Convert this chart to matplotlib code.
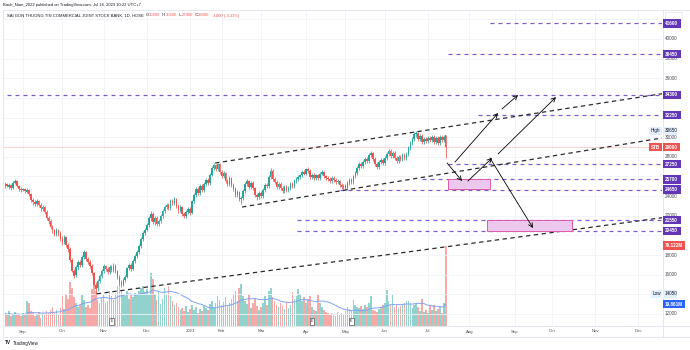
import numpy as np
import pandas as pd
import matplotlib
matplotlib.use('Agg')
import matplotlib.pyplot as plt
from matplotlib.patches import Rectangle
from matplotlib.offsetbox import TextArea, HPacker, AnnotationBbox

plt.rcParams['font.family'] = ['Liberation Sans', 'DejaVu Sans']

# ---------------- data ----------------
HOLIDAYS = ['2022-09-01', '2022-09-02', '2023-01-02', '2023-01-20', '2023-01-23',
            '2023-01-24', '2023-01-25', '2023-01-26', '2023-05-01', '2023-05-02',
            '2023-05-03', '2023-09-01', '2023-09-04']
dates = pd.bdate_range('2022-08-19', '2023-12-29', freq='C', holidays=HOLIDAYS)

opens = [25000, 25200, 24900, 25100, 24800, 25300, 25500, 25000, 24700, 24600,
         24700, 24400, 24600, 24200, 23600, 23400, 23200, 23500, 23100, 22700,
         22900, 22400, 21800, 21500, 20900, 20500, 20100, 20600, 20200, 19600,
         19300, 19800, 19000, 18600, 17500, 16400, 16000, 16800, 17300, 17000,
         17800, 18300, 17600, 17300, 16900, 16200, 15000, 14600, 15400, 15900,
         16400, 16900, 16600, 16300, 16800, 16500, 16900, 16400, 15800, 15300,
         15000, 15500, 15800, 16700, 17000, 16600, 17400, 17900, 18300, 18900,
         19600, 20200, 20600, 21100, 21800, 22200, 21400, 21800, 21200, 21500,
         22000, 22500, 22900, 23100, 22800, 23500, 23300, 23700, 23000, 22600,
         22900, 22200, 22000, 22400, 22700, 22300, 23500, 24100, 24700, 24300,
         25000, 24600, 25200, 25600, 25300, 26200, 26900, 27200, 26800, 27300,
         26500, 26000, 26400, 25500, 25200, 25800, 25100, 24700, 24100, 24400,
         23700, 23800, 24500, 25200, 25500, 24900, 25300, 24800, 24100, 23900,
         24300, 24000, 24600, 25100, 25000, 25900, 26600, 25700, 25400, 24900,
         25200, 24800, 24500, 24900, 24600, 24800, 25200, 25000, 25500, 25700,
         25900, 26100, 26500, 26300, 26800, 26600, 25900, 26200, 25800, 26100,
         25800, 26300, 26500, 26000, 25800, 25700, 25500, 25800, 25600, 25400,
         25500, 25100, 24900, 25000, 24800, 25300, 25600, 25400, 26000, 26400,
         26900, 27300, 27100, 27500, 27800, 27600, 28200, 28400, 27800, 27300,
         27000, 27500, 27700, 27400, 27900, 28300, 28600, 28100, 28400, 27900,
         27600, 28000, 27800, 28200, 27900, 28300, 28900, 29400, 29800, 30300,
         30400, 29800, 30100, 29500, 29800, 29600, 29900, 29700, 30000, 29500,
         29900, 29400, 30000, 29700, 30200]
highs = [25400, 25300, 25300, 25200, 25500, 25700, 25600, 25100, 24900, 24800,
         24800, 24800, 24700, 24300, 23800, 23600, 23700, 23600, 23300, 23100,
         23000, 22600, 22000, 21700, 21100, 20700, 20800, 20700, 20400, 19900,
         20000, 19900, 19200, 18800, 17700, 16600, 17000, 17500, 17500, 18000,
         18500, 18400, 17800, 17500, 17100, 16300, 15300, 15600, 16100, 16600,
         17100, 17000, 16800, 17000, 17000, 17200, 17100, 16500, 16000, 15500,
         15700, 16000, 16800, 17200, 17200, 17600, 18100, 18500, 19100, 19800,
         20400, 20800, 21300, 22000, 22500, 22400, 22000, 22000, 21700, 22200,
         22700, 23100, 23300, 23300, 23700, 23700, 23900, 23800, 23200, 23100,
         23000, 22400, 22600, 22900, 22900, 23600, 24300, 24900, 24900, 25200,
         25200, 25400, 25800, 25800, 26400, 27100, 27400, 27300, 27400, 27400,
         26700, 26600, 26500, 25700, 26000, 25900, 25300, 24900, 24600, 24500,
         24000, 24700, 25400, 25700, 25600, 25500, 25500, 24900, 24300, 24500,
         24500, 24800, 25300, 25300, 26100, 26900, 26800, 25900, 25600, 25400,
         25400, 25000, 25100, 25100, 25000, 25400, 25400, 25700, 25900, 26100,
         26300, 26700, 26700, 26900, 27000, 26800, 26400, 26400, 26300, 26300,
         26500, 26700, 26600, 26200, 26000, 25900, 26000, 26000, 25800, 25700,
         25600, 25300, 25200, 25200, 25500, 25800, 25800, 26200, 26600, 27100,
         27500, 27500, 27700, 28000, 28000, 28400, 28600, 28500, 28000, 27500,
         27700, 27900, 27900, 28100, 28500, 28800, 28800, 28600, 28600, 28100,
         28200, 28200, 28400, 28400, 28500, 29100, 29600, 30000, 30500, 30650,
         30500, 30300, 30300, 30000, 30000, 30100, 30100, 30200, 30200, 30100,
         30100, 30200, 30200, 30200, 30200]
lows = [24800, 24900, 24700, 24600, 24700, 25200, 24900, 24500, 24400, 24500,
        24300, 24300, 24000, 23400, 23100, 23000, 23000, 22900, 22500, 22500,
        22200, 21600, 21200, 20700, 20200, 19900, 19900, 19900, 19400, 19000,
        19100, 18800, 18300, 17300, 16300, 15700, 15800, 16500, 16800, 16800,
        17600, 17400, 17100, 16700, 16000, 14800, 14050, 14300, 15200, 15700,
        16200, 16400, 16100, 16100, 16300, 16300, 16200, 15600, 15000, 14700,
        14800, 15300, 15700, 16500, 16400, 16500, 17200, 17700, 18100, 18700,
        19400, 20000, 20400, 20900, 21500, 21200, 21100, 21000, 21000, 21300,
        21800, 22300, 22700, 22600, 22600, 23100, 23100, 22800, 22300, 22400,
        22000, 21800, 21800, 22200, 22100, 22200, 23300, 23900, 24100, 24100,
        24400, 24400, 25000, 25100, 25100, 26000, 26700, 26600, 26600, 26300,
        25800, 25800, 25300, 25000, 25000, 24900, 24500, 23900, 23900, 23500,
        23200, 23600, 24300, 25000, 24700, 24700, 24600, 23900, 23600, 23700,
        23800, 23800, 24400, 24800, 24800, 25700, 25500, 25200, 24700, 24700,
        24600, 24300, 24300, 24400, 24400, 24600, 24800, 24800, 25300, 25500,
        25700, 25900, 26100, 26100, 26400, 25700, 25700, 25600, 25600, 25600,
        25600, 26100, 25800, 25600, 25500, 25300, 25300, 25400, 25200, 25200,
        24900, 24700, 24700, 24600, 24600, 25100, 25200, 25200, 25800, 26200,
        26700, 26900, 26900, 27300, 27400, 27400, 28000, 27600, 27100, 26800,
        26800, 27300, 27200, 27200, 27700, 28100, 27900, 27900, 27700, 27400,
        27400, 27600, 27600, 27700, 27700, 28100, 28700, 29200, 29600, 30000,
        29600, 29600, 29300, 29300, 29400, 29400, 29500, 29500, 29300, 29300,
        29200, 29200, 29500, 29500, 27900]
closes = [25200, 25000, 25100, 24800, 25300, 25500, 25000, 24700, 24600, 24700,
          24500, 24600, 24200, 23600, 23400, 23200, 23500, 23100, 22800, 22900,
          22400, 21800, 21500, 20900, 20500, 20100, 20600, 20200, 19600, 19300,
          19800, 19000, 18600, 17500, 16400, 15900, 16800, 17300, 17000, 17800,
          18300, 17600, 17300, 16900, 16200, 15000, 14500, 15400, 15900, 16400,
          16900, 16600, 16300, 16800, 16500, 16900, 16400, 15800, 15300, 15000,
          15500, 15800, 16700, 17000, 16600, 17400, 17900, 18300, 18900, 19600,
          20200, 20600, 21100, 21800, 22200, 21400, 21800, 21200, 21500, 22000,
          22500, 22900, 23100, 22800, 23500, 23300, 23700, 23000, 22600, 22900,
          22200, 22000, 22400, 22700, 22300, 23500, 24100, 24700, 24300, 25000,
          24600, 25200, 25600, 25300, 26200, 26900, 27200, 26800, 27300, 26500,
          26000, 26400, 25500, 25200, 25800, 25100, 24700, 24100, 24400, 23700,
          23800, 24500, 25200, 25500, 24900, 25300, 24800, 24100, 23900, 24300,
          24000, 24600, 25100, 25000, 25900, 26600, 25700, 25400, 24900, 25200,
          24800, 24500, 24900, 24600, 24800, 25200, 25000, 25500, 25700, 25900,
          26100, 26500, 26300, 26800, 26600, 25900, 26200, 25800, 26100, 25800,
          26300, 26500, 26000, 25800, 25700, 25500, 25800, 25600, 25400, 25500,
          25100, 24900, 25000, 24800, 25300, 25600, 25400, 26000, 26400, 26900,
          27300, 27100, 27500, 27800, 27600, 28200, 28400, 27800, 27300, 27000,
          27500, 27700, 27400, 27900, 28300, 28600, 28100, 28400, 27900, 27600,
          28000, 27800, 28200, 27900, 28300, 28900, 29400, 29800, 30300, 30400,
          29800, 30100, 29500, 29800, 29600, 29900, 29700, 30000, 29500, 29900,
          29400, 30000, 29700, 30000, 29000]
volumes_m = [12, 10, 14, 9, 11, 13, 10, 11, 9, 12,
             10, 24, 22, 14, 12, 9, 11, 13, 8, 12,
             10, 14, 12, 15, 18, 13, 15, 11, 17, 28,
             16, 30, 26, 42, 36, 27, 22, 18, 20, 29,
             25, 18, 20, 17, 35, 42, 33, 25, 22, 27,
             30, 22, 24, 33, 28, 25, 31, 38, 42, 34,
             30, 28, 33, 26, 30, 27, 31, 29, 33, 36,
             38, 32, 35, 30, 50, 44, 30, 25, 33, 21,
             26, 36, 30, 38, 28, 24, 20, 22, 18, 15,
             17, 14, 19, 13, 16, 20, 15, 18, 12, 16,
             14, 19, 17, 15, 21, 24, 18, 22, 28, 25,
             20, 23, 27, 19, 22, 26, 30, 33, 24, 36,
             40, 28, 24, 21, 30, 17, 22, 26, 19, 15,
             18, 22, 28, 20, 33, 36, 27, 24, 20, 18,
             22, 19, 16, 23, 17, 20, 32, 26, 28, 35,
             30, 24, 27, 22, 26, 28, 18, 15, 14, 30,
             22, 18, 15, 13, 12, 10, 12, 11, 9, 13,
             10, 12, 11, 14, 18, 16, 15, 25, 20, 18,
             17, 19, 16, 20, 18, 22, 28, 15, 14, 13,
             16, 18, 20, 22, 34, 24, 21, 30, 18, 20,
             17, 19, 20, 22, 24, 24, 22, 17, 20, 21,
             18, 14, 26, 13, 15, 12, 19, 15, 20, 14,
             16, 18, 12, 22, 76.122]

month_labels = ['Sep', 'Oct', 'Nov', 'Dec', '2023', 'Feb', 'Mar', 'Apr', 'May',
                'Jun', 'Jul', 'Aug', 'Sep', 'Oct', 'Nov', 'Dec']
price_ticks = [12000, 16000, 18000, 22000, 24000, 28000, 30000, 36000, 38000,
               40000]
grid_prices = list(range(12000, 44000, 2000))

level_prices = [41600, 38450, 34300, 32250, 27250, 25700, 24650, 21550, 20450]
level_starts = [246.5, 225.2, -5.0, 240.4, 225.2, 212.0, 170.2, 148.4, 148.4]

trend_lines = {
    'upper': [(106.7, 27370), (334.0, 34430)],
    'lower': [(120.4, 22890), (334.0, 29920)],
    'support': [(46.5, 14050), (334.0, 21800)],
}
arrows = [((224.7, 27370), (232.3, 25540)),
          ((228.7, 27470), (250.6, 32460)),
          ((252.6, 32870), (260.8, 34300)),
          ((235.3, 25540), (247.6, 27880)),
          ((250.6, 28290), (280.1, 34090)),
          ((246.5, 27880), (268.4, 20750))]
zones = [((225.3, 246.5), (24700, 25700)),
         ((245.2, 288.1), (20450, 21550))]
earnings_pos = [54, 156, 176]

last_price = 29000
high_price = 30650
low_price = 14050
vol_ma_label = '19.861M'
vol_last_label = '76.122M'

# ---------------- styling ----------------
W, H = 690, 350
UP, DOWN = '#26a69a', '#ef5350'
VUP, VDOWN = '#92d2cc', '#f7a9a7'
PURPLE_LINE = '#7e5bd0'
PURPLE_BOX = '#6236b7'
GRID = '#f1f3f7'
TXT = '#4a4e59'

fig = plt.figure(figsize=(W / 100, H / 100), dpi=100)
fig.patch.set_facecolor('white')
ax = fig.add_axes([3 / W, 24 / H, 659 / W, 316 / H])
axv = ax.twinx()
ax.set_zorder(axv.get_zorder() + 1)
ax.patch.set_visible(False)

XMIN, XMAX = -1.17, 334.0
ax.set_xlim(XMIN, XMAX)
ax.set_ylim(10774, 42953)
axv.set_ylim(0, 299)

for a in (ax, axv):
    for s in a.spines.values():
        s.set_visible(False)
    a.set_xticks([])
    a.set_yticks([])

o = np.array(opens, float)
h = np.array(highs, float)
l = np.array(lows, float)
c = np.array(closes, float)
v = np.array(volumes_m, float)
x = np.arange(len(c))
up = c >= o

# grid
first_pos = [k for k in range(1, len(dates)) if dates[k].month != dates[k - 1].month]
for p in first_pos:
    axv.axvline(p, color=GRID, lw=0.6, zorder=0)
for gp in grid_prices:
    ax.axhline(gp, color=GRID, lw=0.6, zorder=0)

# volume
axv.bar(x, v, width=0.8, color=np.where(up, VUP, VDOWN), lw=0, zorder=2)
ma = pd.Series(v).rolling(20, min_periods=1).mean().values
axv.plot(x, ma, color='#7ea3f5', lw=0.7, zorder=3)

# price line
ax.axhline(last_price, color='#fbd5d4', lw=0.8, zorder=1)

# candles
col = np.where(up, UP, DOWN)
ax.vlines(x, l, h, colors=col, lw=0.55, zorder=4)
ax.bar(x, np.maximum(np.abs(c - o), 60), bottom=np.minimum(o, c), width=0.78,
       color=col, lw=0, zorder=5)

# horizontal levels
for lp, ls in zip(level_prices, level_starts):
    ax.plot([ls, XMAX + 5], [lp, lp], color=PURPLE_LINE, lw=0.9,
            dashes=(3.2, 3.2), zorder=6, solid_capstyle='butt')

# trend lines
for (x0, y0), (x1, y1) in trend_lines.values():
    ax.plot([x0, x1], [y0, y1], color='#2b2b2b', lw=0.9, dashes=(3.5, 2.8),
            zorder=6)

# zones
for (xa, xb), (ya, yb) in zones:
    ax.add_patch(Rectangle((xa, ya), xb - xa, yb - ya, facecolor='#ecc8ee',
                           edgecolor='#e05aa8', lw=0.7, zorder=6.5))

# arrows
for (sx, sy), (ex, ey) in arrows:
    ax.annotate('', xy=(ex, ey), xytext=(sx, sy),
                arrowprops=dict(arrowstyle='->,head_length=0.5,head_width=0.25',
                                color='black', lw=0.6, shrinkA=0, shrinkB=0,
                                mutation_scale=6), zorder=7)

# earnings markers
for ep in earnings_pos:
    ax.text(ep, 0.0145, 'E', transform=ax.get_xaxis_transform(), fontsize=2.6,
            ha='center', va='center', color='#333', zorder=8,
            bbox=dict(boxstyle='square,pad=0.35', fc='white', ec='#555', lw=0.5))

fig.canvas.draw()


def fy(p):
    return ax.transData.transform((0, p))[1] / H


def fyv(val):
    return axv.transData.transform((0, val))[1] / H


def fxp(pos):
    return ax.transData.transform((pos, 0))[0] / W


def hline(ypix, x0, x1, color='#e0e3eb', lw=0.6):
    fig.add_artist(plt.Line2D([x0 / W, x1 / W], [1 - ypix / H, 1 - ypix / H],
                              color=color, lw=lw, transform=fig.transFigure))


def vline(xpix, y0, y1, color='#e0e3eb', lw=0.6):
    fig.add_artist(plt.Line2D([xpix / W, xpix / W], [1 - y0 / H, 1 - y1 / H],
                              color=color, lw=lw, transform=fig.transFigure))


hline(10, 3, 690)
hline(326, 3, 690)
hline(336.5, 3, 690)
vline(662.5, 10, 336.5)
vline(3, 10, 336.5)

# price tick labels
for pt in price_ticks:
    fig.text(665 / W, fy(pt), f'{pt}', fontsize=3.3, color=TXT, va='center',
             ha='left', zorder=3)

# month labels
for p, lab in zip(first_pos, month_labels):
    fig.text(fxp(p), 1 - 331.5 / H, lab, fontsize=3.1, color=TXT,
             ha='center', va='center')


def axis_box(yf, text, fc, tc='white', x0=663, w=18, hgt=8.5, zo=5):
    fig.add_artist(Rectangle((x0 / W, yf - hgt / 2 / H), w / W, hgt / H,
                             transform=fig.transFigure, fc=fc, ec='none',
                             zorder=zo))
    fig.text((x0 + 1.6) / W, yf, text, fontsize=3.3, color=tc, va='center',
             ha='left', zorder=zo + 1,
             fontweight='bold' if tc == 'white' else 'normal')


for lp in level_prices:
    axis_box(fy(lp), f'{lp}', PURPLE_BOX)

axis_box(fy(high_price), f'{high_price}', '#e3effd', tc='#131722', w=14)
axis_box(fy(high_price), 'High', '#e3effd', tc='#131722', x0=649, w=13)
axis_box(fy(last_price), f'{last_price}', DOWN, w=17)
axis_box(fy(last_price), 'STB', DOWN, x0=649, w=13)
axis_box(fy(low_price), f'{low_price}', '#e3effd', tc='#131722', w=14)
axis_box(fy(low_price), 'Low', '#e3effd', tc='#131722', x0=651, w=11)
axis_box(fyv(v[-1]), vol_last_label, DOWN, w=22)
axis_box(fyv(ma[-1]), vol_ma_label, '#2962ff', w=22)

# small button at the top of the price scale
fig.add_artist(Rectangle((665 / W, 1 - 20 / H), 17 / W, 8 / H,
                         transform=fig.transFigure, fc='white', ec='#e0e3eb',
                         lw=0.5))

# header texts
fig.text(3 / W, 1 - 5 / H,
         'Bach_Nam_2022 published on TradingView.com, Jul 16, 2023 10:22 UTC+7',
         fontsize=3.0, color='#131722', va='center', ha='left')

RED = '#ef5350'
DARK = '#131722'
parts = [('SAI GON THUONG TIN COMMERCIAL JOINT STOCK BANK, 1D, HOSE  ', DARK),
         ('O', DARK), ('30200', RED), ('  H', DARK), ('30200', RED),
         ('  L', DARK), ('27900', RED), ('  C', DARK), ('29000', RED),
         ('  -1000 (-3.33%)', RED)]
areas = [TextArea(t, textprops=dict(color=cc, fontsize=3.0)) for t, cc in parts]
pack = HPacker(children=areas, pad=0, sep=0, align='center')
ab = AnnotationBbox(pack, (7 / W, 1 - 15.5 / H), xycoords='figure fraction',
                    box_alignment=(0, 0.5), frameon=False, pad=0)
fig.add_artist(ab)

# TradingView logo
fig.text(5 / W, 1 - 343 / H, 'TV', fontsize=3.4, fontweight='bold',
         color='#131722', va='center', ha='left')
fig.text(13 / W, 1 - 343 / H, 'TradingView', fontsize=3.3, color='#131722',
         va='center', ha='left')

fig.savefig('out.png', dpi=100)
